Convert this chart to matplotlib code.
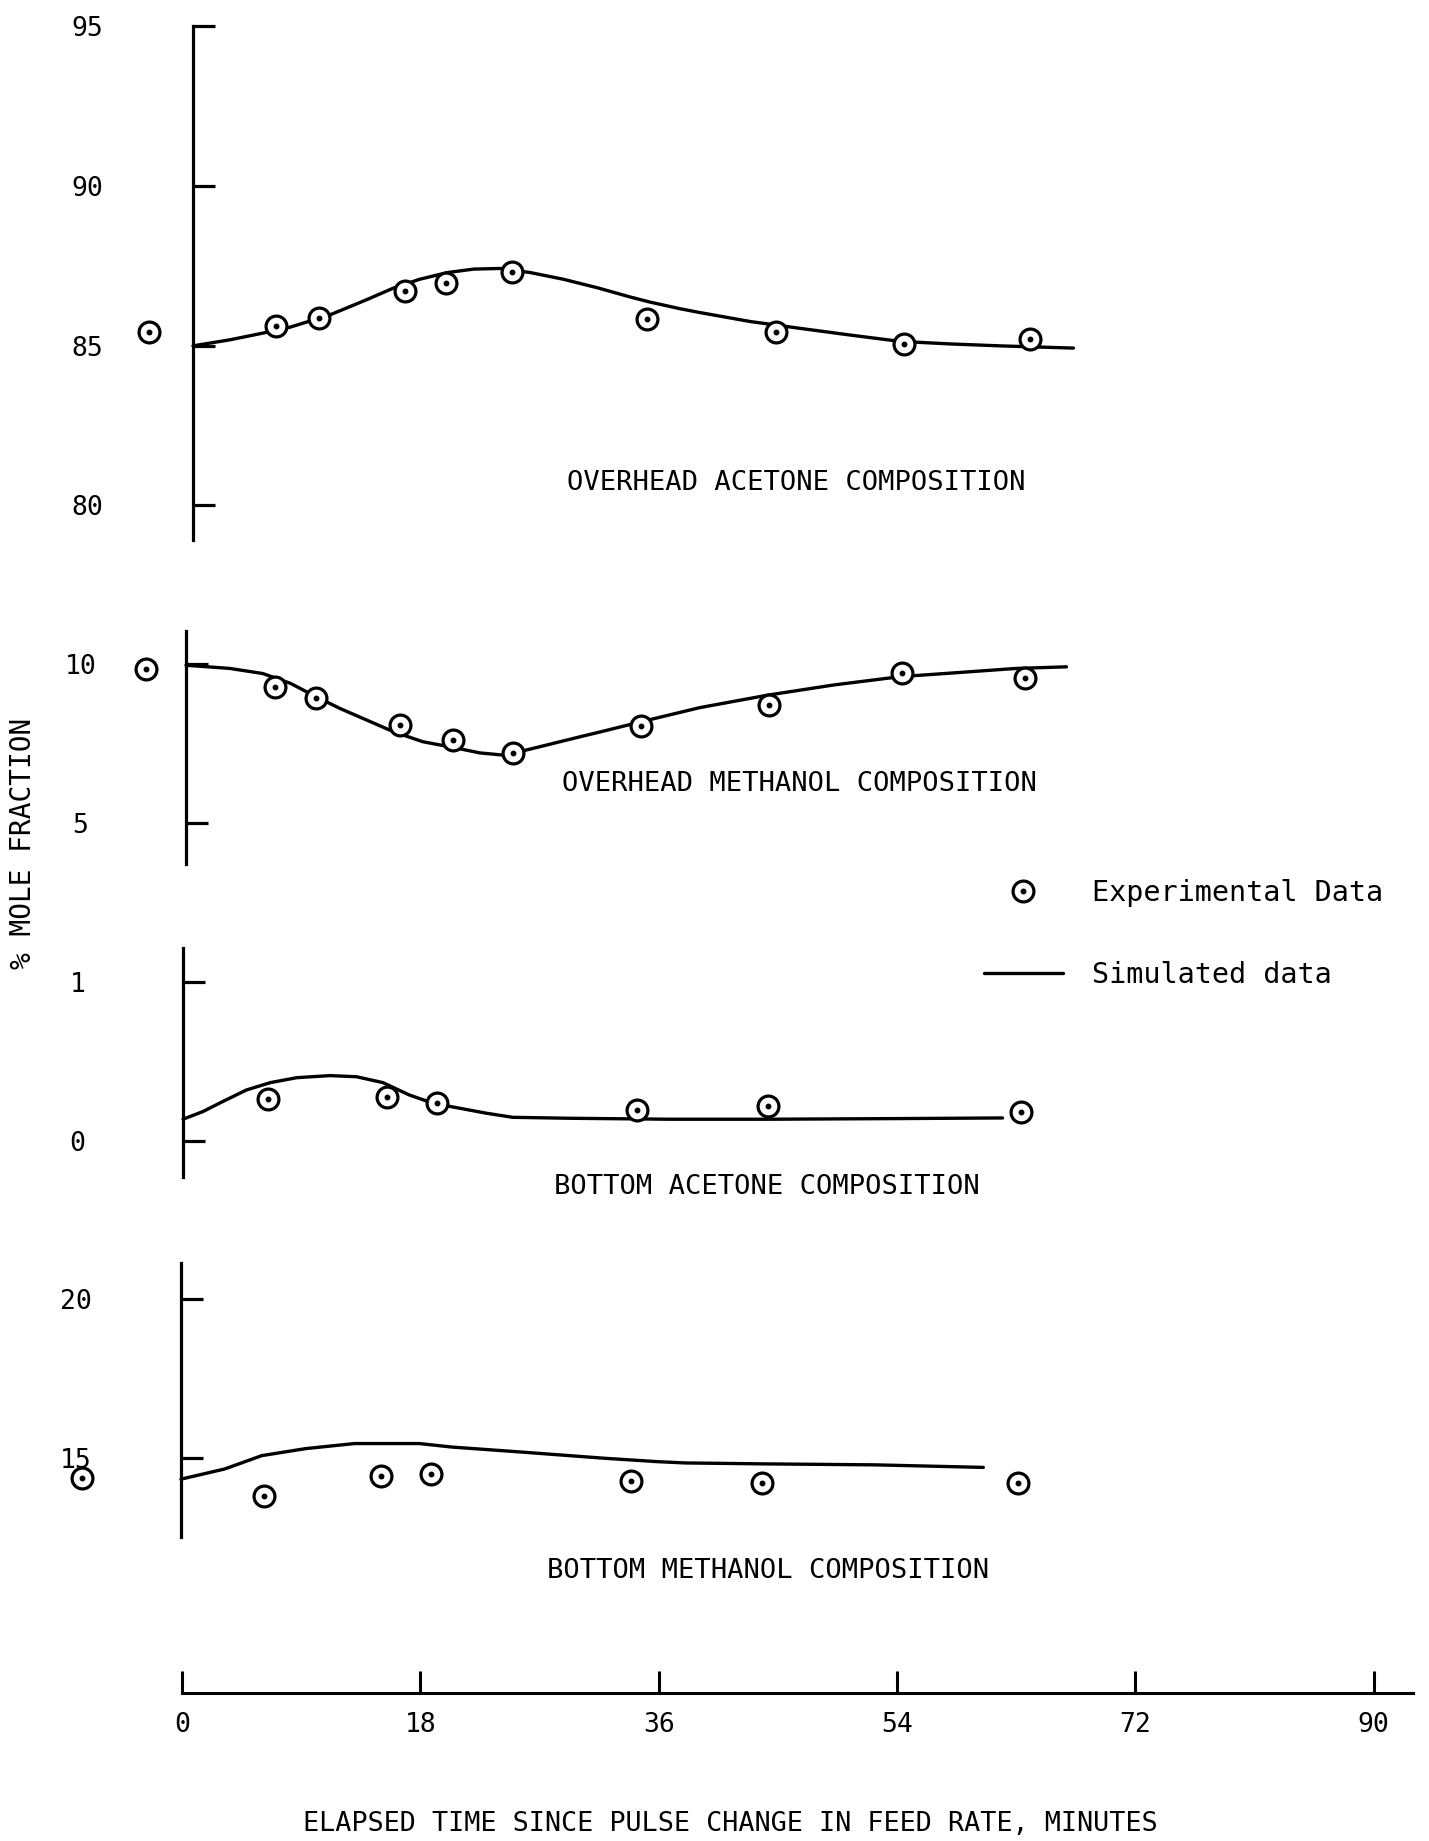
import matplotlib
matplotlib.use("Agg")
import matplotlib.pyplot as plt
from matplotlib.legend_handler import HandlerTuple

plt.rcParams['font.family'] = ['DejaVu Sans Mono', 'DejaVu Sans']

# ---------------- data (time in minutes, values in % mole fraction) ----------------
# Overhead acetone
oa_exp_t = [-3.3, 6.3, 9.5, 16.0, 19.1, 24.1, 34.3, 44.0, 53.7, 63.2]
oa_exp_v = [85.42, 85.62, 85.86, 86.69, 86.97, 87.29, 85.84, 85.42, 85.04, 85.21]
oa_sim_t = [0, 2.8, 5.3, 7.3, 10.35, 13.1, 15.1, 17.1, 19.2, 21.2, 23.2, 25.5, 28.0,
            30.6, 33.0, 34.5, 36.8, 38.3, 42.1, 45.8, 49.6, 53.4, 57.2, 60.95, 66.5]
oa_sim_v = [84.99, 85.18, 85.39, 85.57, 85.96, 86.43, 86.79, 87.07, 87.28, 87.39, 87.41,
            87.28, 87.07, 86.80, 86.52, 86.36, 86.15, 86.03, 85.75, 85.54, 85.33, 85.13,
            85.05, 84.99, 84.92]

# Overhead methanol
om_exp_t = [-3.0, 6.7, 9.8, 16.2, 20.2, 24.7, 34.4, 44.0, 54.1, 63.4]
om_exp_v = [9.82, 9.27, 8.91, 8.06, 7.60, 7.20, 8.05, 8.70, 9.71, 9.54]
om_sim_t = [0, 3.3, 5.8, 7.9, 9.6, 11.6, 13.65, 15.7, 17.9, 20.2, 22.2, 24.0, 25.7, 29.8,
            31.3, 34.4, 38.8, 43.9, 48.9, 53.9, 59.0, 62.7, 66.5]
om_sim_v = [9.95, 9.85, 9.69, 9.38, 9.01, 8.60, 8.23, 7.86, 7.55, 7.37, 7.20, 7.13, 7.29,
            7.71, 7.86, 8.18, 8.62, 9.01, 9.33, 9.59, 9.74, 9.85, 9.90]

# Bottom acetone
ba_exp_t = [6.45, 15.4, 19.2, 34.3, 44.2, 63.3]
ba_exp_v = [0.266, 0.277, 0.239, 0.20, 0.22, 0.183]
ba_sim_t = [0, 1.5, 3.0, 4.8, 6.6, 8.6, 11.1, 13.1, 15.1, 17.1, 18.9, 20.9, 22.9, 24.9,
            29.2, 36.8, 44.2, 53.9, 61.9]
ba_sim_v = [0.139, 0.187, 0.25, 0.323, 0.369, 0.40, 0.413, 0.406, 0.369, 0.291, 0.239,
            0.208, 0.177, 0.151, 0.145, 0.139, 0.139, 0.143, 0.147]

# Bottom methanol
bm_exp_t = [-7.5, 6.3, 15.1, 18.9, 34.0, 43.9, 63.2]
bm_exp_v = [14.37, 13.80, 14.45, 14.50, 14.29, 14.23, 14.23]
bm_sim_t = [0, 3.3, 6.1, 9.4, 13.1, 18.0, 20.45, 25.8, 31.9, 36.0, 38.1, 44.2, 52.4, 60.6]
bm_sim_v = [14.34, 14.66, 15.08, 15.30, 15.46, 15.46, 15.35, 15.19, 15.0, 14.89, 14.85,
            14.82, 14.79, 14.71]

time_ticks = [0, 18, 36, 54, 72, 90]

panel_titles = ["OVERHEAD ACETONE COMPOSITION", "OVERHEAD METHANOL COMPOSITION",
                "BOTTOM ACETONE COMPOSITION", "BOTTOM METHANOL COMPOSITION"]
panel_yticks = [[80, 85, 90, 95], [5, 10], [0, 1], [15, 20]]
panel_ylims = [(78.92, 95.0), (3.71, 11.03), (-0.227, 1.212), (12.53, 21.13)]

# ---------------- layout (pixels) ----------------
W, H, DPI = 1429, 1841, 100
XMIN, XMAX = -9, 92
PX_PER_MIN = 13.24

fig = plt.figure(figsize=(W / DPI, H / DPI), dpi=DPI)
fig.patch.set_facecolor('white')


def make_axes(spine_x, top, bottom):
    left = spine_x + XMIN * PX_PER_MIN
    width = (XMAX - XMIN) * PX_PER_MIN
    ax = fig.add_axes([left / W, 1 - bottom / H, width / W, (bottom - top) / H])
    ax.patch.set_visible(False)
    ax.set_xlim(XMIN, XMAX)
    return ax


panel_geo = [(193, 25.7, 540.0), (186, 630.8, 864.2), (183, 948.4, 1177.5),
             (181, 1263.3, 1536.7)]
title_pos = [(567, 482.6), (562, 784), (554, 1187), (547, 1571)]

series = [(oa_exp_t, oa_exp_v, oa_sim_t, oa_sim_v),
          (om_exp_t, om_exp_v, om_sim_t, om_sim_v),
          (ba_exp_t, ba_exp_v, ba_sim_t, ba_sim_v),
          (bm_exp_t, bm_exp_v, bm_sim_t, bm_sim_v)]

handles = None
for i, ((sx, top, bot), (et, ev, st, sv)) in enumerate(zip(panel_geo, series)):
    ax = make_axes(sx, top, bot)
    ax.set_ylim(*panel_ylims[i])
    for s in ['top', 'right', 'bottom']:
        ax.spines[s].set_visible(False)
    ax.spines['left'].set_position(('data', 0))
    ax.spines['left'].set_linewidth(2.3)
    ax.set_xticks([])
    ax.set_yticks(panel_yticks[i])
    ax.set_yticklabels([str(v) for v in panel_yticks[i]])
    ax.tick_params(axis='y', direction='in', length=16, width=2.3, pad=76, labelsize=19)
    plt.setp(ax.get_yticklabels(), ha='center')

    line, = ax.plot(st, sv, color='black', lw=2.4, solid_capstyle='round',
                    solid_joinstyle='round', clip_on=False)
    ring, = ax.plot(et, ev, linestyle='none', marker='o', ms=15, mfc='white', mec='black',
                    mew=2.3, clip_on=False, zorder=3)
    dot, = ax.plot(et, ev, linestyle='none', marker='o', ms=3.2, mfc='black', mec='black',
                   clip_on=False, zorder=4)
    if handles is None:
        handles = [(ring, dot), line]
    fig.text(title_pos[i][0] / W, 1 - title_pos[i][1] / H, panel_titles[i],
             ha='left', va='center', fontsize=19.5)

# bottom time axis
axb = make_axes(182, 1650, 1693)
for s in ['top', 'right', 'left']:
    axb.spines[s].set_visible(False)
axb.spines['bottom'].set_linewidth(2.2)
axb.spines['bottom'].set_bounds(0, 93)
axb.set_yticks([])
axb.set_xticks(time_ticks)
axb.set_xticklabels([str(v) for v in time_ticks])
axb.tick_params(axis='x', direction='in', length=16, width=2.2, pad=14, labelsize=19)

fig.text(303 / W, 1 - 1824 / H, "ELAPSED TIME SINCE PULSE CHANGE IN FEED RATE, MINUTES",
         ha='left', va='center', fontsize=19.3)
fig.text(23.5 / W, 1 - 843 / H, "% MOLE FRACTION", rotation=90, ha='center', va='center',
         fontsize=20)

fig.legend(handles=handles, labels=["Experimental Data", "Simulated data"],
           handler_map={tuple: HandlerTuple(ndivide=1)},
           loc='upper left', bbox_to_anchor=(984 / W, 1 - 879 / H), frameon=False,
           fontsize=20.5, handlelength=2.77, handletextpad=1.02, labelspacing=1.9,
           borderpad=0, borderaxespad=0)

fig.savefig("out.png", dpi=DPI, facecolor='white')
